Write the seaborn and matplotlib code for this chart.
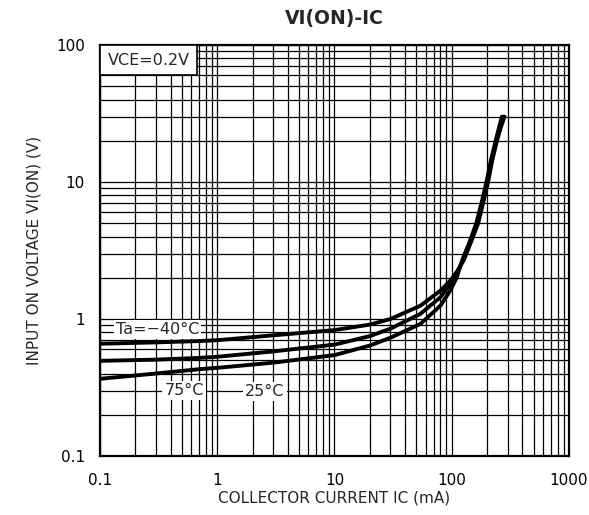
import matplotlib
matplotlib.use("Agg")
import matplotlib.pyplot as plt
import seaborn as sns
import pandas as pd
import numpy as np
from matplotlib.ticker import LogLocator, FixedLocator, FixedFormatter, NullFormatter
from matplotlib.patches import Rectangle

# ---- data ----
ic_m40 = [0.1, 0.3, 0.7, 1, 3, 10, 20, 30, 54, 80, 97, 110, 127, 145, 168, 185, 204, 222, 243, 262, 282]
v_m40 = [0.66, 0.675, 0.69, 0.70, 0.76, 0.83, 0.91, 1.0, 1.25, 1.61, 1.9, 2.2, 2.7, 3.6, 5.0, 7.0, 10, 14.5, 20, 25, 30]

ic_25 = [0.1, 0.3, 0.7, 1, 3, 10, 20, 30, 54, 80, 97, 110, 125, 143, 165, 182, 201, 219, 240, 257, 274]
v_25 = [0.495, 0.505, 0.52, 0.53, 0.58, 0.65, 0.75, 0.85, 1.09, 1.44, 1.80, 2.12, 2.7, 3.6, 5.0, 7.0, 10, 14.5, 20, 25, 30]

ic_75 = [0.1, 0.3, 0.7, 1, 3, 10, 20, 30, 54, 80, 97, 110, 123, 141, 162, 179, 198, 216, 237, 253, 268]
v_75 = [0.366, 0.40, 0.43, 0.44, 0.48, 0.545, 0.64, 0.73, 0.92, 1.25, 1.61, 2.0, 2.7, 3.6, 5.0, 7.0, 10, 14.5, 20, 25, 30]

x_ticks = [0.1, 1, 10, 100, 1000]
x_tick_labels = ["0.1", "1", "10", "100", "1000"]
y_ticks = [0.1, 1, 10, 100]
y_tick_labels = ["0.1", "1", "10", "100"]

title = "VI(ON)-IC"
x_label = "COLLECTOR CURRENT IC (mA)"
y_label = "INPUT ON VOLTAGE VI(ON) (V)"
cond_text = "VCE=0.2V"
curve_labels = ["Ta=\u221240\u00b0C", "25\u00b0C", "75\u00b0C"]
label_pos = [(0.31, 0.835), (2.55, 0.295), (0.52, 0.302)]

df = pd.concat([
    pd.DataFrame({"ic": ic_m40, "v": v_m40, "Ta": "-40"}),
    pd.DataFrame({"ic": ic_25, "v": v_25, "Ta": "25"}),
    pd.DataFrame({"ic": ic_75, "v": v_75, "Ta": "75"}),
])

sns.set_style("white")
plt.rcParams["font.family"] = ["DejaVu Sans"]

fig = plt.figure(figsize=(5.89, 5.15), dpi=100)
ax = fig.add_axes([100 / 589, 1 - 456 / 515, 469 / 589, 411 / 515])

ax.set_xscale("log")
ax.set_yscale("log")
ax.set_xlim(0.1, 1000)
ax.set_ylim(0.1, 100)

sns.lineplot(data=df, x="ic", y="v", hue="Ta", palette=["black"] * 3,
             sort=False, estimator=None, linewidth=2.8, legend=False, ax=ax, zorder=3)

ax.xaxis.set_major_locator(FixedLocator(x_ticks))
ax.xaxis.set_major_formatter(FixedFormatter(x_tick_labels))
ax.yaxis.set_major_locator(FixedLocator(y_ticks))
ax.yaxis.set_major_formatter(FixedFormatter(y_tick_labels))
ax.xaxis.set_minor_locator(LogLocator(base=10, subs=np.arange(2, 10), numticks=20))
ax.yaxis.set_minor_locator(LogLocator(base=10, subs=np.arange(2, 10), numticks=20))
ax.xaxis.set_minor_formatter(NullFormatter())
ax.yaxis.set_minor_formatter(NullFormatter())

ax.grid(True, which="both", color="black", linewidth=0.9, zorder=1)
ax.set_axisbelow(True)
ax.tick_params(which="both", length=0, labelsize=11, colors="black")
ax.tick_params(axis="x", pad=12)
ax.tick_params(axis="y", pad=11)

for s in ax.spines.values():
    s.set_color("black")
    s.set_linewidth(1.6)

ax.set_xlabel(x_label, fontsize=11, labelpad=2)
ax.set_ylabel(y_label, fontsize=11, labelpad=10)
ax.set_title(title, fontsize=13.5, fontweight="bold", pad=15)

box_w = 97 / 469
box_h = 30 / 411
ax.add_patch(Rectangle((0, 1 - box_h), box_w, box_h, transform=ax.transAxes,
                       facecolor="white", edgecolor="black", linewidth=1.2, zorder=5,
                       clip_on=False))
ax.text(box_w / 2, 1 - box_h / 2, cond_text, transform=ax.transAxes, fontsize=11.5,
        ha="center", va="center", zorder=6)

for lab, (lx, ly) in zip(curve_labels, label_pos):
    ax.text(lx, ly, lab, fontsize=11.5, ha="center", va="center", zorder=4,
            bbox=dict(boxstyle="square,pad=0.12", facecolor="white", edgecolor="none"))

fig.savefig("out.png", dpi=100)
